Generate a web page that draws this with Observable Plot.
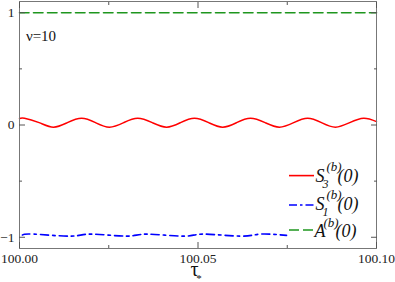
<!DOCTYPE html>
<html>
<head>
<meta charset="utf-8">
<script src="https://cdn.jsdelivr.net/npm/d3@7"></script>
<script src="https://cdn.jsdelivr.net/npm/@observablehq/plot@0.6"></script>
<style>
  html, body { margin: 0; padding: 0; background: white; }
  #chart { width: 395px; height: 282px; }
  #chart svg, #chart svg text { font-family: "Liberation Serif", "Times New Roman", Times, serif !important; }
</style>
</head>
<body>
<div id="chart"></div>
<script>
// ---- data ----
const redTau = [100.0000, 100.0014, 100.0055, 100.0095, 100.0134, 100.0174, 100.0213, 100.0252, 100.0292, 100.0331,
                100.0372, 100.0412, 100.0451, 100.0490, 100.0530, 100.0569, 100.0608, 100.0647, 100.0688, 100.0728,
                100.0768, 100.0807, 100.0846, 100.0885, 100.0925, 100.0964, 100.1000];
const redVal = [0.056, 0.060, 0.021, -0.019, 0.021, 0.060, 0.021, -0.019, 0.021, 0.060,
                0.021, -0.019, 0.021, 0.060, 0.021, -0.019, 0.021, 0.060, 0.021, -0.019,
                0.021, 0.060, 0.021, -0.019, 0.021, 0.060, 0.030];

const blueTau = [100.0008, 100.0039, 100.0143, 100.0199, 100.0300, 100.0356, 100.0459, 100.0515, 100.0619, 100.0675, 100.0748];
const blueVal = [-0.980, -0.972, -0.990, -0.972, -0.990, -0.972, -0.990, -0.972, -0.990, -0.972, -0.983];

const greenTau = [100.000, 100.025, 100.050, 100.075, 100.100];
const greenVal = [1.0, 1.0, 1.0, 1.0, 1.0];

const xMajor = [100.00, 100.05, 100.10];
const xMinor = [100.025, 100.075];
const yMajor = [-1, 0, 1];
const yMinor = [-0.5, 0.5];

const annotation = "ν=10";

const toRows = (t, v) => t.map((d, i) => ({t: d, v: v[i]}));
const red = toRows(redTau, redVal);
const blue = toRows(blueTau, blueVal);
const green = toRows(greenTau, greenVal);

const tickColor = "#555";
const serif = "'Liberation Serif', 'Times New Roman', Times, serif";
const fmtY = d => d < 0 ? "\u2212" + Math.abs(d) : String(d);

const plot = Plot.plot({
  width: 395,
  height: 282,
  marginLeft: 19,
  marginRight: 19,
  marginTop: 1,
  marginBottom: 34,
  style: {fontFamily: serif, fontSize: "13.5px", color: "#222", background: "white"},
  x: {domain: [100, 100.1]},
  y: {domain: [-1.1, 1.1]},
  marks: [
    Plot.line(green, {x: "t", y: "v", stroke: "#1e961e", strokeWidth: 1.6, strokeDasharray: "9.5,4.5"}),
    Plot.line(red, {x: "t", y: "v", stroke: "#ff0000", strokeWidth: 1.5, curve: "natural"}),
    Plot.line(blue, {x: "t", y: "v", stroke: "#0000ff", strokeWidth: 1.6, curve: "natural", strokeDasharray: "8,4,2.5,4"}),
    Plot.frame({stroke: "#777"}),
    // inward major / minor ticks on all four sides
    Plot.axisX(xMajor, {anchor: "bottom", tickSize: 6, dy: -6, fill: "none", label: null, stroke: tickColor}),
    Plot.axisX(xMinor, {anchor: "bottom", tickSize: 3, dy: -3, fill: "none", label: null, stroke: tickColor}),
    Plot.axisX(xMajor, {anchor: "top", tickSize: 6, dy: 6, fill: "none", label: null, stroke: tickColor}),
    Plot.axisX(xMinor, {anchor: "top", tickSize: 3, dy: 3, fill: "none", label: null, stroke: tickColor}),
    Plot.axisY(yMajor, {anchor: "left", tickSize: 6, dx: 6, fill: "none", label: null, stroke: tickColor}),
    Plot.axisY(yMinor, {anchor: "left", tickSize: 3, dx: 3, fill: "none", label: null, stroke: tickColor}),
    Plot.axisY(yMajor, {anchor: "right", tickSize: 6, dx: -6, fill: "none", label: null, stroke: tickColor}),
    Plot.axisY(yMinor, {anchor: "right", tickSize: 3, dx: -3, fill: "none", label: null, stroke: tickColor}),
    // tick labels
    Plot.axisX(xMajor, {anchor: "bottom", tickSize: 0, tickPadding: 4.5, tickFormat: d3.format(".2f"), label: null}),
    Plot.axisY(yMajor, {anchor: "left", tickSize: 0, tickPadding: 5, tickFormat: fmtY, label: null})
  ]
});

document.getElementById("chart").appendChild(plot);

// ---- annotations: axis title, parameter label, legend ----
const svg = d3.select(plot);
const ann = svg.append("g").attr("font-family", serif).attr("fill", "#111");

ann.append("text").attr("x", 41).attr("y", 40.5).attr("font-size", 15).text(annotation);

// x axis title  τ*
ann.append("text").attr("x", 194.5).attr("y", 275.5).attr("font-size", 20).text("τ");
ann.append("text").attr("x", 199).attr("y", 282).attr("font-size", 11).text("*");

// legend
const legendRows = [
  {color: "#ff0000", dash: null, ly: 175.6, base: 182, main: "S", sub: "3"},
  {color: "#0000ff", dash: "8,3,2.5,3", ly: 205, base: 210, main: "S", sub: "1"},
  {color: "#1e961e", dash: "10,4", ly: 230, base: 237, main: "A", sub: null}
];
legendRows.forEach(r => {
  const l = ann.append("line")
    .attr("x1", 289).attr("x2", 314).attr("y1", r.ly).attr("y2", r.ly)
    .attr("stroke", r.color).attr("stroke-width", 1.6);
  if (r.dash) l.attr("stroke-dasharray", r.dash);
  const t = ann.append("g").attr("font-style", "italic");
  t.append("text").attr("x", 320).attr("y", r.base).attr("font-size", 18).text(r.main);
  if (r.sub) {
    t.append("text").attr("x", 325.5).attr("y", r.base + 6).attr("font-size", 12).text(r.sub);
    t.append("text").attr("x", 334).attr("y", r.base - 11).attr("font-size", 13).text("(b)");
    t.append("text").attr("x", 348).attr("y", r.base).attr("font-size", 18).text("(0)");
  } else {
    t.append("text").attr("x", 331).attr("y", r.base - 10).attr("font-size", 13).text("(b)");
    t.append("text").attr("x", 346).attr("y", r.base).attr("font-size", 18).text("(0)");
  }
});
</script>
</body>
</html>
